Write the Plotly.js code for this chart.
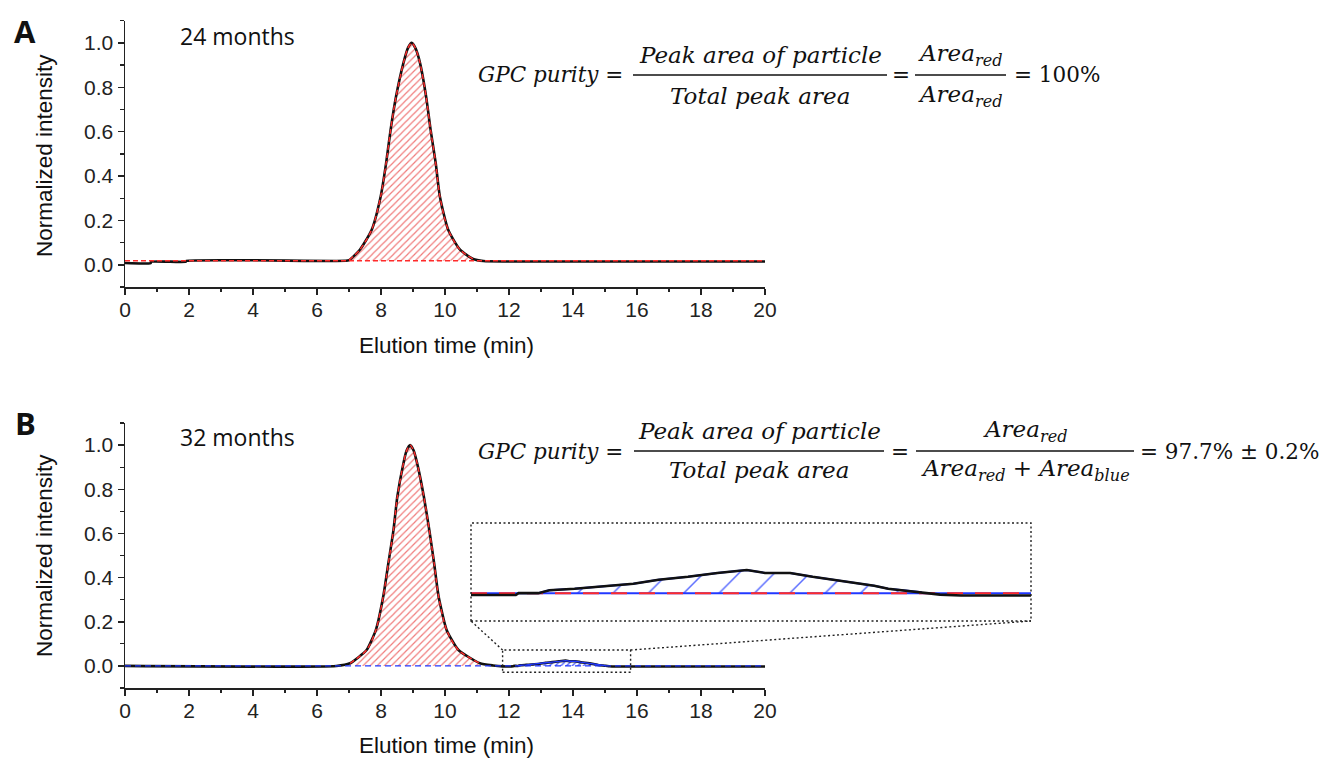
<!DOCTYPE html>
<html>
<head>
<meta charset="utf-8">
<script src="https://cdn.plot.ly/plotly-3.0.1.min.js"></script>
<style>
  html, body { margin: 0; padding: 0; background: #ffffff; }
  #chart { width: 1324px; height: 759px; }
</style>
</head>
<body>
<div id="chart"></div>
<script>
// ---------------- DATA ----------------
// Panel A: 24 months
const timeA = [0, 0.8, 0.82, 1.9, 1.92, 6.9, 7.0, 7.34, 7.71, 7.99, 8.16, 8.30, 8.47, 8.70, 8.85, 8.96, 9.08, 9.22, 9.41, 9.55, 9.71, 9.84, 10.10, 10.47, 10.88, 11.2, 12.0, 20.0];
const intensityA = [0.008, 0.008, 0.014, 0.014, 0.018, 0.018, 0.021, 0.068, 0.158, 0.308, 0.458, 0.608, 0.758, 0.909, 0.980, 1.000, 0.975, 0.909, 0.758, 0.608, 0.458, 0.308, 0.158, 0.068, 0.026, 0.017, 0.015, 0.015];
const baselineA = 0.018;
const redRangeA = [7.0, 10.88];

// Panel B: 32 months
const timeB = [0, 6.6, 7.03, 7.55, 7.84, 8.07, 8.23, 8.39, 8.51, 8.70, 8.80, 8.91, 9.02, 9.13, 9.34, 9.51, 9.66, 9.80, 10.05, 10.42, 11.09, 11.5, 11.8, 12.12, 12.14, 12.28, 12.36, 12.54, 12.70, 12.96, 13.14, 13.35, 13.56, 13.77, 13.90, 14.08, 14.24, 14.37, 14.52, 14.68, 14.78, 15.02, 15.15, 15.3, 20];
const intensityB = [0, 0, 0.012, 0.072, 0.163, 0.314, 0.465, 0.615, 0.766, 0.917, 0.975, 1.000, 0.975, 0.917, 0.766, 0.615, 0.465, 0.314, 0.163, 0.072, 0.012, 0.002, -0.002, -0.002, 0, 0, 0.003, 0.0045, 0.0063, 0.0098, 0.014, 0.017, 0.021, 0.024, 0.021, 0.021, 0.017, 0.0144, 0.0115, 0.0077, 0.0045, 0.001, -0.0015, -0.0025, -0.0025];
const baselineB = 0;
const redRangeB = [7.03, 11.09];
const blueRangeB = [12.28, 15.02];
const zoomWindowX = [11.8, 15.8];
const zoomWindowY = [-0.029, 0.072];

const xTickVals = [0, 2, 4, 6, 8, 10, 12, 14, 16, 18, 20];
const yTickVals = [0.0, 0.2, 0.4, 0.6, 0.8, 1.0];
const yTickText = ['0.0', '0.2', '0.4', '0.6', '0.8', '1.0'];

// ---------------- helpers ----------------
const W = 1324, H = 759;
const px = v => v / W;
const py = v => 1 - v / H;
function slice(xs, ys, lo, hi) {
  const ox = [], oy = [];
  xs.forEach((x, i) => { if (x >= lo - 1e-9 && x <= hi + 1e-9) { ox.push(x); oy.push(ys[i]); } });
  return { x: ox, y: oy };
}

// plot areas (pixels)
const plotX = [125, 765];
const plotAY = [20.7, 287];
const plotBY = [423, 688];
const insetX = [471, 1031];
const insetY = [523, 621];
const xRange = [0, 20];
const yRange = [-0.1, 1.1];
const insetYRange = [-0.029, 0.073];

const RED = '#ff2b2b';
const BLUE = '#2238ff';
const BLACK = '#111111';

const redA = slice(timeA, intensityA, redRangeA[0], redRangeA[1]);
const redB = slice(timeB, intensityB, redRangeB[0], redRangeB[1]);
const blueB = slice(timeB, intensityB, blueRangeB[0], blueRangeB[1]);
const insetB = slice(timeB, intensityB, zoomWindowX[0] - 0.5, 20);

const redPattern = { shape: '/', fgcolor: '#f07a7a', bgcolor: '#ffffff', size: 5, solidity: 0.24 };
const bluePatternSmall = { shape: '/', fgcolor: '#3a4dff', bgcolor: '#ffffff', size: 4, solidity: 0.3 };
const bluePatternBig = { shape: '/', fgcolor: '#5a6cff', bgcolor: '#ffffff', size: 25, solidity: 0.06 };

const traces = [
  // ---- Panel A ----
  { x: redRangeA, y: [baselineA, baselineA], xaxis: 'x', yaxis: 'y', mode: 'lines', line: { width: 0 }, hoverinfo: 'skip', showlegend: false },
  { x: redA.x, y: redA.y, xaxis: 'x', yaxis: 'y', mode: 'lines', line: { width: 0, shape: 'spline', smoothing: 0.8 }, fill: 'tonexty', fillcolor: 'rgba(0,0,0,0)', fillpattern: redPattern, showlegend: false },
  { x: timeA, y: intensityA, xaxis: 'x', yaxis: 'y', mode: 'lines', line: { color: BLACK, width: 2.6, shape: 'spline', smoothing: 0.6 }, showlegend: false },
  { x: xRange, y: [baselineA, baselineA], xaxis: 'x', yaxis: 'y', mode: 'lines', line: { color: RED, width: 1.4, dash: '5px,3px' }, showlegend: false },
  { x: redA.x, y: redA.y, xaxis: 'x', yaxis: 'y', mode: 'lines', line: { color: RED, width: 1.4, dash: '5px,3px', shape: 'spline', smoothing: 0.8 }, showlegend: false },

  // ---- Panel B ----
  { x: redRangeB, y: [baselineB, baselineB], xaxis: 'x2', yaxis: 'y2', mode: 'lines', line: { width: 0 }, hoverinfo: 'skip', showlegend: false },
  { x: redB.x, y: redB.y, xaxis: 'x2', yaxis: 'y2', mode: 'lines', line: { width: 0, shape: 'spline', smoothing: 0.8 }, fill: 'tonexty', fillcolor: 'rgba(0,0,0,0)', fillpattern: redPattern, showlegend: false },
  { x: blueRangeB, y: [baselineB, baselineB], xaxis: 'x2', yaxis: 'y2', mode: 'lines', line: { width: 0 }, hoverinfo: 'skip', showlegend: false },
  { x: blueB.x, y: blueB.y, xaxis: 'x2', yaxis: 'y2', mode: 'lines', line: { width: 0 }, fill: 'tonexty', fillcolor: 'rgba(0,0,0,0)', fillpattern: bluePatternSmall, showlegend: false },
  { x: timeB, y: intensityB, xaxis: 'x2', yaxis: 'y2', mode: 'lines', line: { color: BLACK, width: 2.6, shape: 'spline', smoothing: 0.5 }, showlegend: false },
  { x: redB.x, y: redB.y, xaxis: 'x2', yaxis: 'y2', mode: 'lines', line: { color: RED, width: 1.4, dash: '5px,3px', shape: 'spline', smoothing: 0.8 }, showlegend: false },
  { x: blueB.x, y: blueB.y, xaxis: 'x2', yaxis: 'y2', mode: 'lines', line: { color: BLUE, width: 1.4 }, showlegend: false },
  { x: xRange, y: [baselineB, baselineB], xaxis: 'x2', yaxis: 'y2', mode: 'lines', line: { color: BLUE, width: 1.4, dash: '6px,4px' }, showlegend: false },

  // ---- Inset (magnified window of panel B) ----
  { x: blueRangeB, y: [baselineB, baselineB], xaxis: 'x3', yaxis: 'y3', mode: 'lines', line: { width: 0 }, hoverinfo: 'skip', showlegend: false },
  { x: blueB.x, y: blueB.y, xaxis: 'x3', yaxis: 'y3', mode: 'lines', line: { width: 0 }, fill: 'tonexty', fillcolor: 'rgba(0,0,0,0)', fillpattern: bluePatternBig, showlegend: false },
  { x: zoomWindowX, y: [baselineB, baselineB], xaxis: 'x3', yaxis: 'y3', mode: 'lines', line: { color: BLUE, width: 2 }, showlegend: false },
  { x: zoomWindowX, y: [baselineB, baselineB], xaxis: 'x3', yaxis: 'y3', mode: 'lines', line: { color: RED, width: 2, dash: '16px,12px' }, showlegend: false },
  { x: blueB.x, y: blueB.y, xaxis: 'x3', yaxis: 'y3', mode: 'lines', line: { color: BLUE, width: 2 }, showlegend: false },
  { x: insetB.x, y: insetB.y, xaxis: 'x3', yaxis: 'y3', mode: 'lines', line: { color: BLACK, width: 2.6 }, showlegend: false }
];

function axisX(domainY, anchor) {
  return {
    domain: [px(plotX[0]), px(plotX[1])], anchor: anchor, range: xRange,
    showline: true, linecolor: '#222', linewidth: 1.5, showgrid: false, zeroline: false,
    ticks: 'outside', ticklen: 6, tickwidth: 1.5, tickcolor: '#222', ticklabelstandoff: -3,
    tickvals: xTickVals, tickfont: { family: 'Liberation Sans, Arial, sans-serif', size: 21, color: '#222' },
    minor: { dtick: 1, tick0: 0, ticks: 'outside', ticklen: 3.5, tickwidth: 1.3, tickcolor: '#222', showgrid: false },
    fixedrange: true
  };
}
function axisY(domainY, anchor) {
  return {
    domain: [py(domainY[1]), py(domainY[0])], anchor: anchor, range: yRange,
    showline: true, linecolor: '#222', linewidth: 1.5, showgrid: false, zeroline: false,
    ticks: 'outside', ticklen: 6, tickwidth: 1.5, tickcolor: '#222',
    tickvals: yTickVals, ticktext: yTickText, tickfont: { family: 'Liberation Sans, Arial, sans-serif', size: 21, color: '#222' },
    minor: { dtick: 0.1, tick0: 0, ticks: 'outside', ticklen: 3.5, tickwidth: 1.3, tickcolor: '#222', showgrid: false },
    fixedrange: true
  };
}

// data -> paper mapping for panel B (for the zoom connectors)
function bPaper(xd, yd) {
  const xp = plotX[0] + (xd - xRange[0]) / (xRange[1] - xRange[0]) * (plotX[1] - plotX[0]);
  const yp = plotBY[1] - (yd - yRange[0]) / (yRange[1] - yRange[0]) * (plotBY[1] - plotBY[0]);
  return [px(xp), py(yp)];
}
const tl = bPaper(zoomWindowX[0], zoomWindowY[1]);
const tr = bPaper(zoomWindowX[1], zoomWindowY[1]);

const dotLine = { color: '#222', width: 1.4, dash: '2px,2.5px' };
const shapes = [
  { type: 'rect', xref: 'x2', yref: 'y2', x0: zoomWindowX[0], x1: zoomWindowX[1], y0: zoomWindowY[0], y1: zoomWindowY[1], line: dotLine },
  { type: 'rect', xref: 'paper', yref: 'paper', x0: px(insetX[0]), x1: px(insetX[1]), y0: py(insetY[1]), y1: py(insetY[0]), line: dotLine },
  { type: 'line', xref: 'paper', yref: 'paper', x0: tl[0], y0: tl[1], x1: px(insetX[0]), y1: py(insetY[1]), line: dotLine },
  { type: 'line', xref: 'paper', yref: 'paper', x0: tr[0], y0: tr[1], x1: px(insetX[1]), y1: py(insetY[1]), line: dotLine },
  // fraction bars
  { type: 'line', xref: 'paper', yref: 'paper', x0: px(633), x1: px(887), y0: py(75), y1: py(75), line: { color: '#111', width: 1.6 } },
  { type: 'line', xref: 'paper', yref: 'paper', x0: px(915), x1: px(1006), y0: py(75), y1: py(75), line: { color: '#111', width: 1.6 } },
  { type: 'line', xref: 'paper', yref: 'paper', x0: px(634), x1: px(884), y0: py(451), y1: py(451), line: { color: '#111', width: 1.6 } },
  { type: 'line', xref: 'paper', yref: 'paper', x0: px(916), x1: px(1134), y0: py(451), y1: py(451), line: { color: '#111', width: 1.6 } }
];

const sans = 'Liberation Sans, Arial, sans-serif';
const serif = 'DejaVu Serif, serif';
function ann(text, x, y, opts) {
  return Object.assign({ text: text, xref: 'paper', yref: 'paper', x: px(x), y: py(y), xanchor: 'center', yanchor: 'middle', showarrow: false,
    font: { family: serif, size: 21.5, color: '#111' } }, opts || {});
}
const fracFont = { family: serif, size: 23, color: '#111' };
const annotations = [
  ann('<b>A</b>', 25, 31, { font: { family: 'Open Sans, sans-serif', size: 31, color: '#111' } }),
  ann('<b>B</b>', 25, 423, { font: { family: 'Open Sans, sans-serif', size: 31, color: '#111' } }),
  ann('24 months', 237, 36, { font: { family: 'Open Sans, sans-serif', size: 23, color: '#111' } }),
  ann('32 months', 237, 437, { font: { family: 'Open Sans, sans-serif', size: 23, color: '#111' } }),
  ann('Normalized intensity', 44, 156, { textangle: -90, font: { family: sans, size: 22.5, color: '#111' } }),
  ann('Normalized intensity', 44, 556, { textangle: -90, font: { family: sans, size: 22.5, color: '#111' } }),
  ann('Elution time (min)', 446, 345, { font: { family: sans, size: 22.5, color: '#111' } }),
  ann('Elution time (min)', 446, 745, { font: { family: sans, size: 22.5, color: '#111' } }),
  // formula A
  ann('<i>GPC purity</i> =', 476, 75, { xanchor: 'left' }),
  ann('<i>Peak area of particle</i>', 760, 55, { font: fracFont }),
  ann('<i>Total peak area</i>', 760, 96, { font: fracFont }),
  ann('=', 901, 75),
  ann('<i>Area<sub>red</sub></i>', 960, 55, { font: fracFont }),
  ann('<i>Area<sub>red</sub></i>', 960, 96, { font: fracFont }),
  ann('= 100%', 1012, 75, { xanchor: 'left' }),
  // formula B
  ann('<i>GPC purity</i> =', 476, 451, { xanchor: 'left' }),
  ann('<i>Peak area of particle</i>', 759, 431, { font: fracFont }),
  ann('<i>Total peak area</i>', 759, 470, { font: fracFont }),
  ann('=', 900, 451),
  ann('<i>Area<sub>red</sub></i>', 1025, 431, { font: fracFont }),
  ann('<i>Area<sub>red</sub></i> + <i>Area<sub>blue</sub></i>', 1025, 470, { font: fracFont }),
  ann('= 97.7% ± 0.2%', 1138, 451, { xanchor: 'left' })
];

const layout = {
  width: W, height: H,
  margin: { l: 0, r: 0, t: 0, b: 0, pad: 0 },
  paper_bgcolor: '#ffffff', plot_bgcolor: 'rgba(0,0,0,0)',
  showlegend: false,
  xaxis: axisX(plotAY, 'y'),
  yaxis: axisY(plotAY, 'x'),
  xaxis2: axisX(plotBY, 'y2'),
  yaxis2: axisY(plotBY, 'x2'),
  xaxis3: { domain: [px(insetX[0]), px(insetX[1])], anchor: 'y3', range: zoomWindowX, visible: false, fixedrange: true },
  yaxis3: { domain: [py(insetY[1]), py(insetY[0])], anchor: 'x3', range: insetYRange, visible: false, fixedrange: true },
  shapes: shapes,
  annotations: annotations
};

Plotly.newPlot('chart', traces, layout, { displayModeBar: false, staticPlot: true });
</script>
</body>
</html>
